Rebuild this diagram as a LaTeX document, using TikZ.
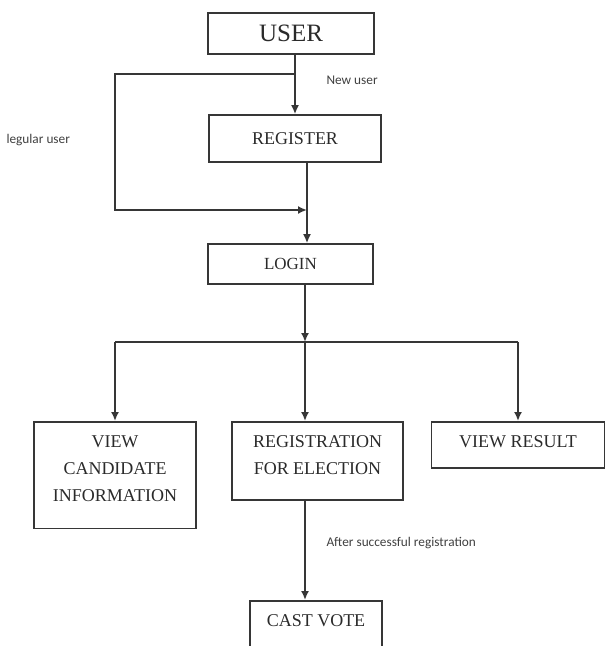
\documentclass[tikz,border=0pt]{standalone}
\usepackage{fontspec}
\setmainfont{Liberation Serif}
\newfontfamily\notefont{Carlito}
\usetikzlibrary{arrows.meta}
\definecolor{linegrey}{HTML}{363636}
\definecolor{textgrey}{HTML}{2A2A2A}

\begin{document}
\begin{tikzpicture}[x=1pt, y=-1pt,
    every node/.style={font=\fontsize{18}{27}\selectfont, text=textgrey},
    box/.style={draw=linegrey, line width=1.7pt, align=center, inner xsep=4pt},
    topbox/.style={box, anchor=north, inner ysep=14pt},
    note/.style={font=\notefont\fontsize{13.3}{15}\selectfont, anchor=west, text=black!75},
    link/.style={draw=linegrey, line width=1.7pt},
    arr/.style={link, -{Latex[length=9pt,width=8pt]}}]
    \useasboundingbox (0,0) rectangle (608,646);
    % boxes
    \node[box, minimum width=166pt, minimum height=41pt, font=\fontsize{25}{30}\selectfont] (user) at (291,33.5) {USER};
    \node[box, minimum width=172pt, minimum height=47pt] (reg) at (295,138.5) {REGISTER};
    \node[box, minimum width=165pt, minimum height=40pt, font=\fontsize{17}{20}\selectfont] (login) at (290.5,264) {LOGIN};
    \node[topbox, minimum width=162pt, text depth=13pt] (cand) at (115,421) {VIEW\\CANDIDATE\\INFORMATION};
    \node[topbox, minimum width=171pt, text depth=11pt] (elect) at (317.5,421) {REGISTRATION\\FOR ELECTION};
    \node[topbox, minimum width=173pt, text depth=6pt] (result) at (518,421) {VIEW RESULT};
    \node[topbox, minimum width=132pt, text depth=30pt] (vote) at (316,600) {CAST VOTE};
    % labels
    \node[note] (newlbl) at (323,80) {New user};
    \node[note] (reglbl) at (3,140) {legular user};
    \node[note] (afterlbl) at (323,543) {After successful registration};
    % connectors
    \coordinate (split) at (295,74);
    \coordinate (bendtop) at (115,74);
    \coordinate (bendlow) at (115,210);
    \coordinate (join) at (307,210);
    \coordinate (fork) at (305,342);
    \draw[arr] (user.south -| reg) -- (reg.north);
    \draw[arr] (split) -- (bendtop) -- (bendlow) -- (join);
    \draw[link] (reg.south -| join) -- (join);
    \draw[arr] (join) -- (login.north -| join);
    \draw[arr] (login.south -| fork) -- (fork);
    \draw[link] (cand.north |- fork) -- (result.north |- fork);
    \draw[arr] (cand.north |- fork) -- (cand.north);
    \draw[arr] (fork) -- (fork |- elect.north);
    \draw[arr] (result.north |- fork) -- (result.north);
    \draw[arr] (elect.south -| fork) -- (vote.north -| fork);
\end{tikzpicture}
\end{document}
